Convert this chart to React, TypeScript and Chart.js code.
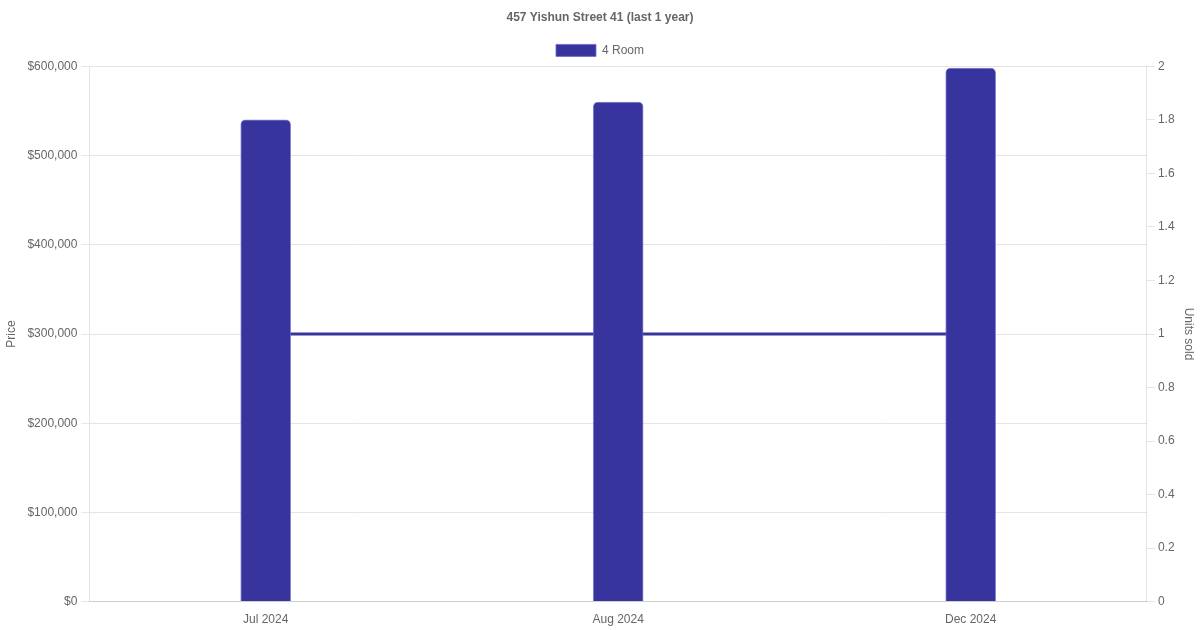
import React, { useEffect, useRef } from "react";
import { Chart, registerables } from "chart.js";

Chart.register(...registerables);

const categories = ["Jul 2024", "Aug 2024", "Dec 2024"];
const prices = [540000, 560000, 598000];
const unitsSold = [1, 1, 1];
const seriesLabel = "4 Room";
const unitsLabel = "Units sold";
const titleText = "457 Yishun Street 41 (last 1 year)";

export default function App() {
  const ref = useRef<HTMLCanvasElement | null>(null);

  useEffect(() => {
    document.body.style.margin = "0";
    const ctx = ref.current!;
    const chart = new Chart(ctx, {
      type: "bar",
      data: {
        labels: categories,
        datasets: [
          {
            type: "bar",
            label: seriesLabel,
            data: prices,
            backgroundColor: "#38349e",
            borderColor: "rgba(110,106,200,0.8)",
            borderWidth: 1,
            borderRadius: 5,
            barThickness: 50,
            yAxisID: "y",
          },
          {
            type: "line",
            label: unitsLabel,
            data: unitsSold,
            borderColor: "#38349e",
            backgroundColor: "#38349e",
            borderWidth: 3,
            pointRadius: 0,
            pointHoverRadius: 0,
            fill: false,
            yAxisID: "y1",
          },
        ],
      },
      options: {
        animation: false,
        responsive: true,
        maintainAspectRatio: false,
        plugins: {
          title: {
            display: true,
            text: titleText,
            color: "#666",
            font: { size: 12, weight: "bold" },
          },
          legend: {
            display: true,
            labels: {
              color: "#666",
              filter: (item: any) => item.datasetIndex === 0,
            },
          },
          tooltip: { enabled: false },
        },
        scales: {
          x: {
            grid: { display: false },
            ticks: { color: "#666" },
          },
          y: {
            position: "left",
            min: 0,
            max: 600000,
            afterFit: (scale: any) => {
              scale.width += 1;
            },
            ticks: {
              stepSize: 100000,
              color: "#666",
              padding: 4,
              callback: (v: any) => "$" + Number(v).toLocaleString("en-US"),
            },
            title: { display: true, text: "Price", color: "#666" },
          },
          y1: {
            position: "right",
            min: 0,
            max: 2,
            ticks: {
              stepSize: 0.2,
              color: "#666",
              callback: (v: any) => String(Number(Number(v).toFixed(1))),
            },
            grid: { drawOnChartArea: false },
            title: { display: true, text: unitsLabel, color: "#666" },
          },
        },
      },
    });
    return () => chart.destroy();
  }, []);

  return (
    <div style={{ width: 1200, height: 630, position: "relative" }}>
      <canvas ref={ref} />
    </div>
  );
}
